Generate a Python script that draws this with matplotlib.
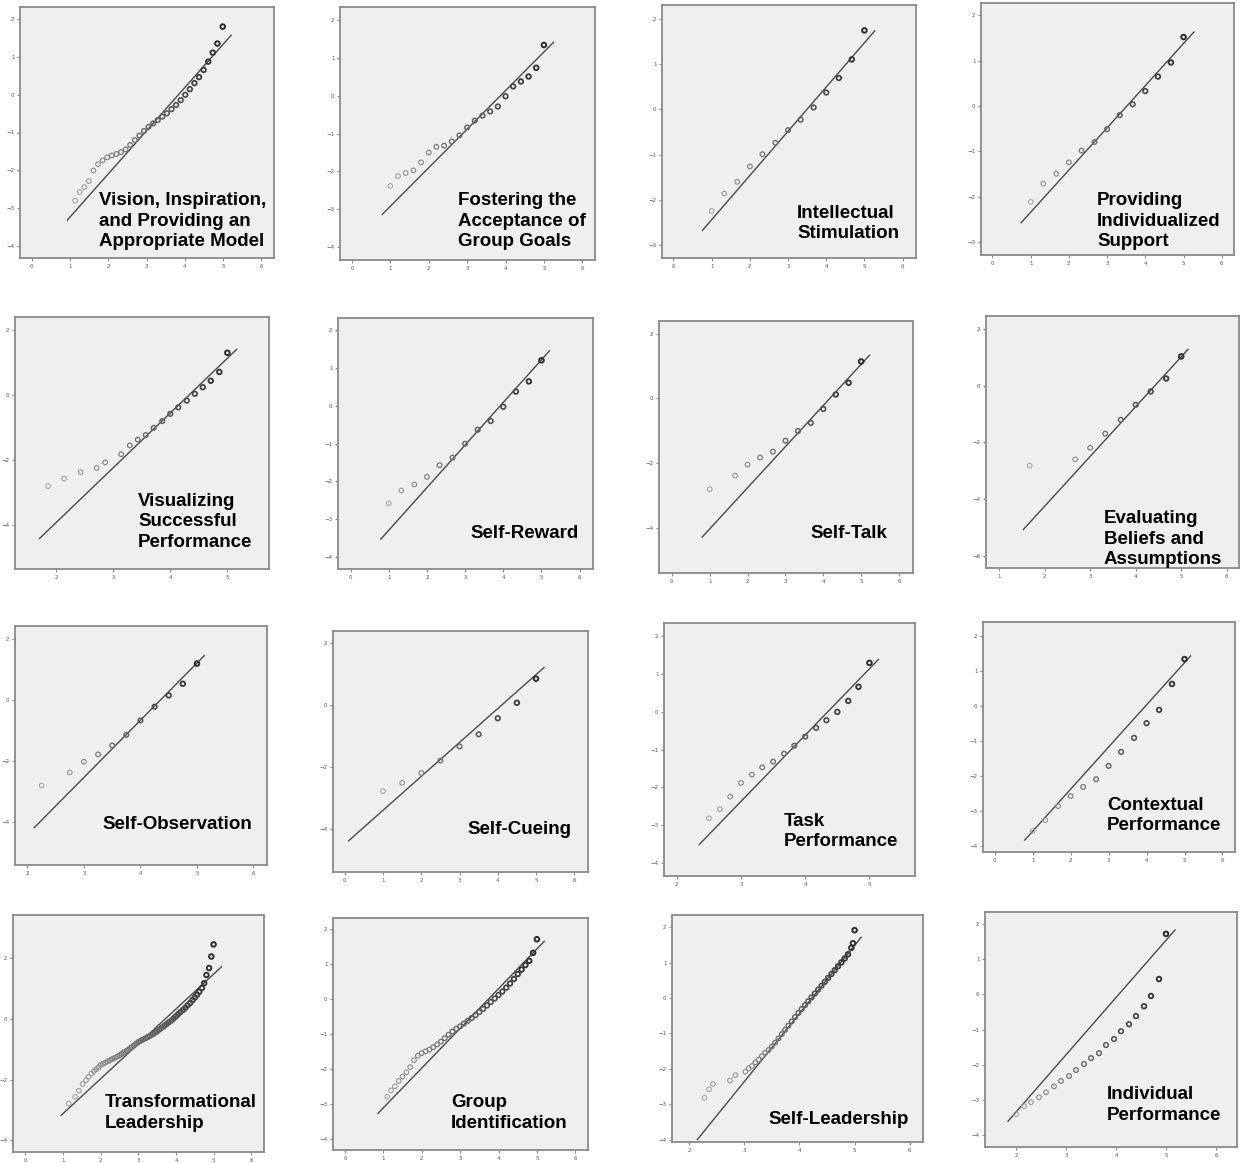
import numpy as np
import matplotlib
matplotlib.use("Agg")
import matplotlib.pyplot as plt

# Normal Q-Q plots of the study variables (4 x 4 grid)

W, H = 1246, 1163

titles = [
    ["Vision, Inspiration,", "and Providing an", "Appropriate Model"],
    ["Fostering the", "Acceptance of", "Group Goals"],
    ["Intellectual", "Stimulation"],
    ["Providing", "Individualized", "Support"],
    ["Visualizing", "Successful", "Performance"],
    ["Self-Reward"],
    ["Self-Talk"],
    ["Evaluating", "Beliefs and", "Assumptions"],
    ["Self-Observation"],
    ["Self-Cueing"],
    ["Task", "Performance"],
    ["Contextual", "Performance"],
    ["Transformational", "Leadership"],
    ["Group", "Identification"],
    ["Self-Leadership"],
    ["Individual", "Performance"],
]

# observed value (x) / expected normal value (y) per panel
vision_x = [1.13, 1.25, 1.37, 1.49, 1.61, 1.73, 1.85, 1.97, 2.09, 2.21, 2.33,
            2.45, 2.57, 2.69, 2.81, 2.93, 3.05, 3.17, 3.29, 3.41, 3.53, 3.65,
            3.77, 3.89, 4.01, 4.13, 4.25, 4.37, 4.49, 4.61, 4.73, 4.85, 4.99]
vision_y = [-2.81, -2.58, -2.45, -2.29, -2.01, -1.84, -1.74, -1.66, -1.61, -1.57,
            -1.52, -1.45, -1.33, -1.20, -1.08, -0.96, -0.85, -0.76, -0.67, -0.58,
            -0.49, -0.38, -0.27, -0.14, 0.00, 0.15, 0.31, 0.47, 0.66, 0.88, 1.12,
            1.36, 1.81]
fostering_x = [1.0, 1.2, 1.4, 1.6, 1.8, 2.0, 2.2, 2.4, 2.6, 2.8, 3.0, 3.2, 3.4,
               3.6, 3.8, 4.0, 4.2, 4.4, 4.6, 4.8, 5.0]
fostering_y = [-2.38, -2.12, -2.04, -1.97, -1.76, -1.50, -1.35, -1.32, -1.21,
               -1.05, -0.84, -0.66, -0.53, -0.42, -0.29, -0.02, 0.24, 0.37, 0.50,
               0.73, 1.33]
thirds_x = [1.0, 1.33, 1.67, 2.0, 2.33, 2.67, 3.0, 3.33, 3.67, 4.0, 4.33, 4.67, 5.0]
intellectual_y = [-2.24, -1.86, -1.60, -1.26, -0.99, -0.74, -0.46, -0.23, 0.04,
                  0.37, 0.69, 1.10, 1.74]
support_y = [-2.11, -1.71, -1.49, -1.24, -0.98, -0.79, -0.51, -0.20, 0.04, 0.33,
             0.65, 0.96, 1.52]
visualizing_x = [1.86, 2.14, 2.43, 2.71, 2.86, 3.14, 3.29, 3.43, 3.57, 3.71, 3.86,
                 4.0, 4.14, 4.29, 4.43, 4.57, 4.71, 4.86, 5.0]
visualizing_y = [-2.81, -2.58, -2.38, -2.25, -2.08, -1.83, -1.56, -1.38, -1.24,
                 -1.02, -0.81, -0.59, -0.39, -0.18, 0.03, 0.23, 0.43, 0.70, 1.29]
reward_y = [-2.58, -2.24, -2.08, -1.88, -1.57, -1.37, -1.00, -0.63, -0.40, -0.02,
            0.38, 0.65, 1.21]
talk_x = [1.0, 1.67, 2.0, 2.33, 2.67, 3.0, 3.33, 3.67, 4.0, 4.33, 4.67, 5.0]
talk_y = [-2.81, -2.39, -2.05, -1.83, -1.65, -1.31, -1.01, -0.76, -0.33, 0.12,
          0.48, 1.14]
beliefs_x = [1.67, 2.67, 3.0, 3.33, 3.67, 4.0, 4.33, 4.67, 5.0]
beliefs_y = [-2.82, -2.60, -2.19, -1.69, -1.20, -0.67, -0.20, 0.26, 1.04]
observation_x = [2.25, 2.75, 3.0, 3.25, 3.5, 3.75, 4.0, 4.25, 4.5, 4.75, 5.0]
observation_y = [-2.81, -2.38, -2.03, -1.79, -1.50, -1.15, -0.68, -0.23, 0.14,
                 0.52, 1.18]
cueing_x = [1.0, 1.5, 2.0, 2.5, 3.0, 3.5, 4.0, 4.5, 5.0]
cueing_y = [-2.79, -2.52, -2.20, -1.80, -1.34, -0.95, -0.43, 0.07, 0.85]
task_x = [2.5, 2.67, 2.83, 3.0, 3.17, 3.33, 3.5, 3.67, 3.83, 4.0, 4.17, 4.33,
          4.5, 4.67, 4.83, 5.0]
task_y = [-2.81, -2.57, -2.24, -1.88, -1.66, -1.47, -1.32, -1.11, -0.90, -0.66,
          -0.43, -0.23, -0.01, 0.28, 0.65, 1.28]
contextual_y = [-3.57, -3.26, -2.86, -2.57, -2.31, -2.09, -1.71, -1.31, -0.91,
                -0.49, -0.11, 0.63, 1.34]
transform_x = [1.15, 1.32, 1.42, 1.52, 1.61, 1.68, 1.75, 1.82, 1.88, 1.94, 2.0,
               2.06, 2.12, 2.19, 2.25, 2.31, 2.38, 2.44, 2.5, 2.56, 2.62, 2.69,
               2.75, 2.81, 2.88, 2.94, 3.0, 3.06, 3.12, 3.19, 3.25, 3.31, 3.38,
               3.44, 3.5, 3.56, 3.62, 3.69, 3.75, 3.81, 3.88, 3.94, 4.0, 4.06,
               4.12, 4.19, 4.25, 4.31, 4.38, 4.44, 4.5, 4.56, 4.62, 4.69, 4.75,
               4.81, 4.88, 4.94, 5.0]
transform_y = [-2.79, -2.57, -2.37, -2.15, -2.02, -1.91, -1.80, -1.72, -1.66,
               -1.60, -1.52, -1.48, -1.44, -1.40, -1.36, -1.32, -1.28, -1.24,
               -1.20, -1.15, -1.10, -1.05, -1.00, -0.94, -0.88, -0.82, -0.76,
               -0.72, -0.68, -0.64, -0.60, -0.56, -0.51, -0.46, -0.41, -0.35,
               -0.29, -0.23, -0.17, -0.11, -0.05, 0.02, 0.09, 0.16, 0.23, 0.30,
               0.37, 0.45, 0.53, 0.62, 0.71, 0.80, 0.90, 1.02, 1.18, 1.45, 1.68,
               2.06, 2.46]
group_x = [1.1, 1.2, 1.3, 1.4, 1.5, 1.6, 1.7, 1.8, 1.9, 2.0, 2.1, 2.2, 2.3, 2.4,
           2.5, 2.6, 2.7, 2.8, 2.9, 3.0, 3.1, 3.2, 3.3, 3.4, 3.5, 3.6, 3.7, 3.8,
           3.9, 4.0, 4.1, 4.2, 4.3, 4.4, 4.5, 4.6, 4.7, 4.8, 4.9, 5.0]
group_y = [-2.80, -2.62, -2.50, -2.35, -2.22, -2.10, -1.95, -1.75, -1.62, -1.55,
           -1.50, -1.45, -1.38, -1.30, -1.22, -1.12, -1.02, -0.93, -0.85, -0.78,
           -0.70, -0.62, -0.54, -0.46, -0.37, -0.28, -0.18, -0.08, 0.02, 0.12,
           0.22, 0.33, 0.45, 0.58, 0.72, 0.85, 0.98, 1.10, 1.33, 1.72]
selflead_x = [2.28, 2.36, 2.43, 2.74, 2.84, 3.02, 3.08, 3.14, 3.20, 3.26, 3.32,
              3.38, 3.44, 3.50, 3.56, 3.62, 3.68, 3.74, 3.80, 3.86, 3.92, 3.98,
              4.04, 4.10, 4.16, 4.22, 4.28, 4.34, 4.40, 4.46, 4.52, 4.58, 4.64,
              4.70, 4.76, 4.82, 4.88, 4.94, 4.97, 5.0]
selflead_y = [-2.82, -2.58, -2.43, -2.33, -2.18, -2.08, -1.99, -1.92, -1.82,
              -1.74, -1.64, -1.55, -1.47, -1.37, -1.26, -1.14, -1.02, -0.90,
              -0.78, -0.66, -0.54, -0.42, -0.31, -0.20, -0.09, 0.02, 0.13, 0.24,
              0.35, 0.46, 0.57, 0.68, 0.79, 0.90, 1.01, 1.12, 1.24, 1.42, 1.55,
              1.92]
individual_x = [2.0, 2.16, 2.30, 2.46, 2.60, 2.76, 2.90, 3.06, 3.20, 3.36, 3.50,
                3.66, 3.80, 3.96, 4.10, 4.26, 4.40, 4.56, 4.70, 4.86, 5.0]
individual_y = [-3.40, -3.17, -3.06, -2.92, -2.78, -2.61, -2.46, -2.32, -2.15,
                -1.98, -1.81, -1.67, -1.44, -1.27, -1.05, -0.85, -0.62, -0.34,
                -0.05, 0.43, 1.71]

# reference line end points (x pair, y pair)
lines = [
    ([0.93, 5.21], [-3.32, 1.58]),
    ([0.79, 5.25], [-3.13, 1.40]),
    ([0.76, 5.27], [-2.67, 1.73]),
    ([0.75, 5.27], [-2.57, 1.63]),
    ([1.71, 5.16], [-4.42, 1.39]),
    ([0.79, 5.21], [-3.53, 1.46]),
    ([0.80, 5.22], [-4.29, 1.33]),
    ([1.53, 5.15], [-5.08, 1.29]),
    ([2.12, 5.13], [-4.19, 1.44]),
    ([0.10, 5.21], [-4.39, 1.21]),
    ([2.35, 5.14], [-3.50, 1.37]),
    ([0.79, 5.16], [-3.83, 1.43]),
    ([0.95, 5.21], [-3.18, 1.72]),
    ([0.86, 5.19], [-3.28, 1.66]),
    ([2.15, 5.12], [-4.00, 1.72]),
    ([1.84, 5.18], [-3.60, 1.82]),
]

points = [
    (vision_x, vision_y), (fostering_x, fostering_y),
    (thirds_x, intellectual_y), (thirds_x, support_y),
    (visualizing_x, visualizing_y), (thirds_x, reward_y),
    (talk_x, talk_y), (beliefs_x, beliefs_y),
    (observation_x, observation_y), (cueing_x, cueing_y),
    (task_x, task_y), (thirds_x, contextual_y),
    (transform_x, transform_y), (group_x, group_y),
    (selflead_x, selflead_y), (individual_x, individual_y),
]

# axes frame in pixels: left, top, right, bottom
boxes = [
    (20, 7, 274, 258), (340, 7, 595, 260), (662, 5, 916, 258), (981, 3, 1234, 255),
    (15, 317, 269, 569), (338, 318, 593, 569), (659, 321, 913, 573), (986, 316, 1239, 568),
    (15, 626, 267, 865), (333, 631, 588, 872), (664, 623, 915, 876), (983, 622, 1235, 852),
    (13, 915, 264, 1152), (333, 918, 588, 1150), (672, 915, 923, 1142), (985, 912, 1237, 1147),
]
xlims = [(-0.31, 6.33), (-0.31, 6.33), (-0.30, 6.35), (-0.30, 6.32),
         (1.28, 5.73), (-0.33, 6.35), (-0.34, 6.37), (0.71, 6.27),
         (1.78, 6.24), (-0.31, 6.36), (1.80, 5.71), (-0.31, 6.33),
         (-0.33, 6.34), (-0.31, 6.33), (1.69, 6.24), (1.38, 6.42)]
ylims = [(-4.33, 2.33), (-4.33, 2.33), (-3.28, 2.30), (-3.28, 2.27),
         (-5.36, 2.39), (-4.32, 2.33), (-5.40, 2.39), (-6.44, 2.47),
         (-5.41, 2.41), (-5.40, 2.39), (-4.33, 2.33), (-4.17, 2.40),
         (-4.39, 3.43), (-4.33, 2.33), (-4.07, 2.35), (-4.33, 2.33)]
xticks = [range(0, 7)] * 4 + [range(2, 6), range(0, 7), range(0, 7), range(1, 7),
          range(2, 7), range(0, 7), range(2, 6), range(0, 7),
          range(0, 7), range(0, 7), range(2, 7), range(2, 7)]
yticks = [range(-4, 3), range(-4, 3), range(-3, 3), range(-3, 3),
          range(-4, 3, 2), range(-4, 3), range(-4, 3, 2), range(-6, 3, 2),
          range(-4, 3, 2), range(-4, 3, 2), range(-4, 3), range(-4, 3),
          range(-4, 3, 2), range(-4, 3), range(-4, 3), range(-4, 3)]
# left edge and first line centre of each label block, pixels
label_pos = [(99, 198), (458, 198), (797, 211), (1097, 198),
             (138, 499), (470, 531), (810, 531), (1104, 516),
             (102, 822), (467, 827), (784, 819), (1107, 803),
             (105, 1100), (451, 1100), (768, 1117), (1107, 1092)]

fig = plt.figure(figsize=(W / 100, H / 100), dpi=100)
fig.patch.set_facecolor("white")

for i in range(16):
    l, t, r, b = boxes[i]
    ax = fig.add_axes([l / W, 1 - b / H, (r - l) / W, (b - t) / H])
    ax.set_facecolor("#efefef")
    for sp in ax.spines.values():
        sp.set_color("#8a8a8a")
        sp.set_linewidth(1.3)

    ax.plot(lines[i][0], lines[i][1], color="#4a4a4a", lw=1.0, zorder=2)

    px, py = points[i]
    n = len(px)
    shade = np.linspace(0.62, 0.18, n)
    cols = [(s, s, s) for s in shade]
    widths = np.linspace(0.7, 1.4, n)
    ax.scatter(px, py, s=11, facecolors="none", edgecolors=cols,
               linewidths=widths, zorder=3)

    ax.set_xlim(*xlims[i])
    ax.set_ylim(*ylims[i])
    ax.set_xticks(list(xticks[i]))
    ax.set_yticks(list(yticks[i]))
    ax.tick_params(length=2.5, width=0.6, color="#777777", labelsize=4,
                   labelcolor="#555555", pad=1.5)

    lx, ly = label_pos[i]
    for k, line in enumerate(titles[i]):
        base = ly + k * 20.7 + 6.8
        fig.text(lx / W, 1 - base / H, line, fontsize=13.5, fontweight="bold",
                 family="Liberation Sans", color="black", va="baseline", ha="left")

fig.savefig("out.png", dpi=100, facecolor="white")
